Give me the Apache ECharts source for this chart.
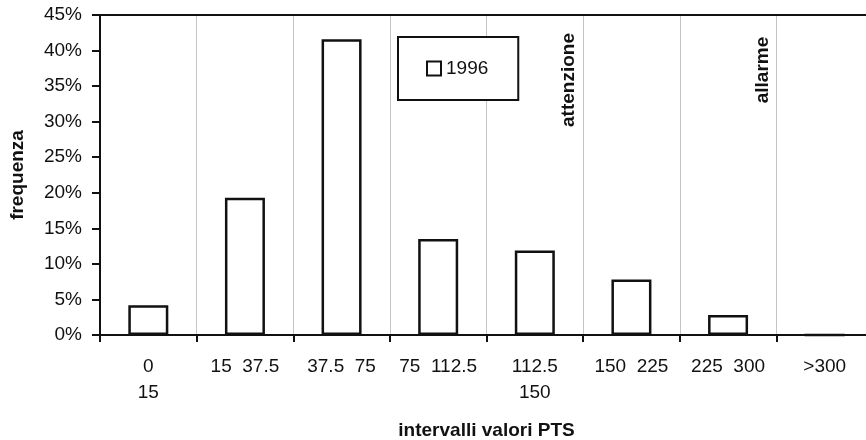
<!DOCTYPE html>
<html>
<head>
<meta charset="utf-8">
<script src="https://cdn.jsdelivr.net/npm/echarts@6/dist/echarts.min.js"></script>
<style>
  html, body { margin: 0; padding: 0; background: #fff; }
  #chart { width: 866px; height: 440px; }
</style>
</head>
<body>
<div id="chart"></div>
<script>
// PTS value classes and the share of samples falling in each one (1996)
const categories = ['0\n15', '15  37.5', '37.5  75', '75  112.5', '112.5\n150', '150  225', '225  300', '>300'];
const freq1996 = [4.2, 19.3, 41.6, 13.5, 11.9, 7.8, 2.8, 0];
const seriesName = '1996';
// threshold annotations placed at the upper edge of a class
const thresholds = [
  { text: 'attenzione', afterCategory: 4, yCenter: 80 },
  { text: 'allarme', afterCategory: 6, yCenter: 70 }
];

const FONT = '"Liberation Sans", Arial, Helvetica, sans-serif';
const INK = '#111';
const FS = 19;

const chart = echarts.init(document.getElementById('chart'), null, { renderer: 'canvas' });

chart.setOption({
  animation: false,
  backgroundColor: '#fff',
  textStyle: { fontFamily: FONT, color: INK },
  grid: { left: 100, top: 15, height: 320, width: 773, containLabel: false, outerBoundsMode: 'none' },
  legend: {
    data: [seriesName],
    left: 398,
    top: 37,
    orient: 'horizontal',
    padding: [22, 30, 22, 28],
    borderColor: INK,
    borderWidth: 2,
    backgroundColor: '#fff',
    itemWidth: 14,
    itemHeight: 14,
    itemGap: 4,
    icon: 'rect',
    textStyle: { fontFamily: FONT, fontSize: FS, color: INK, padding: [0, 0, 0, 0] }
  },
  xAxis: [
    {
      type: 'category',
      data: categories,
      boundaryGap: true,
      axisLine: { lineStyle: { color: INK, width: 2 } },
      axisTick: { show: true, alignWithLabel: false, interval: 0, length: 7, lineStyle: { color: INK, width: 2 } },
      axisLabel: { interval: 0, margin: 19, fontFamily: FONT, fontSize: FS, color: INK, lineHeight: 26 },
      splitLine: { show: true, interval: 0, lineStyle: { color: '#c4c4c4', width: 1 } },
      name: 'intervalli valori PTS',
      nameLocation: 'middle',
      nameGap: 86,
      nameTextStyle: { fontFamily: FONT, fontSize: FS, fontWeight: 'bold', color: INK }
    },
    {
      // upper frame line of the plot area
      type: 'category',
      data: categories,
      position: 'top',
      axisLine: { show: true, lineStyle: { color: INK, width: 2 } },
      axisTick: { show: false },
      axisLabel: { show: false },
      splitLine: { show: false }
    }
  ],
  yAxis: {
    type: 'value',
    min: 0,
    max: 45,
    interval: 5,
    axisLine: { show: true, lineStyle: { color: INK, width: 2 } },
    axisTick: { show: true, length: 8, lineStyle: { color: INK, width: 2 } },
    axisLabel: { margin: 18, fontFamily: FONT, fontSize: FS, color: INK, formatter: '{value}%' },
    splitLine: { show: false },
    name: 'frequenza',
    nameLocation: 'middle',
    nameGap: 73,
    nameTextStyle: { fontFamily: FONT, fontSize: FS, fontWeight: 'bold', color: INK }
  },
  series: [
    {
      name: seriesName,
      type: 'bar',
      data: freq1996,
      barWidth: 40,
      itemStyle: { color: '#fff', borderColor: INK, borderWidth: 2.5 }
    }
  ]
});

// Rotated threshold labels, placed just left of the class boundary they refer to
const c0 = chart.convertToPixel({ xAxisIndex: 0 }, 0);
const c1 = chart.convertToPixel({ xAxisIndex: 0 }, 1);
const band = c1 - c0;
chart.setOption({
  graphic: thresholds.map(t => {
    const boundary = chart.convertToPixel({ xAxisIndex: 0 }, t.afterCategory) + band / 2;
    return {
      type: 'text',
      x: boundary - 14,
      y: t.yCenter,
      rotation: Math.PI / 2,
      z: 10,
      style: {
        text: t.text,
        fontFamily: FONT,
        fontSize: FS,
        fontWeight: 'bold',
        fill: INK,
        align: 'center',
        verticalAlign: 'middle'
      }
    };
  })
});
</script>
</body>
</html>
